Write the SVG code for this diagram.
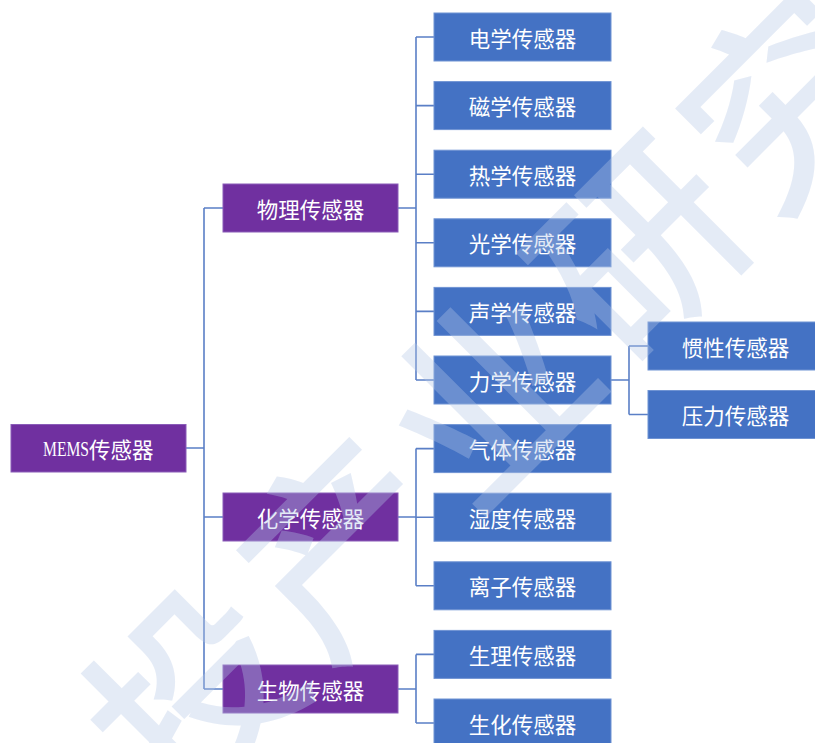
<svg xmlns="http://www.w3.org/2000/svg" width="815" height="743" viewBox="0 0 815 743">
<style>
.p{fill:#7030A0;stroke:#8a5cb8;stroke-width:1}
.b{fill:#4472C4;stroke:#6f93d3;stroke-width:1}
.t{fill:#ffffff;font-family:"Noto Sans CJK SC","Noto Sans",sans-serif;font-size:21.5px;text-anchor:middle;dominant-baseline:central}
.c{fill:none;stroke:#5a7fc6;stroke-width:1.6}
.w{fill:#b4c7e7;opacity:0.35;font-family:"Noto Sans CJK SC",sans-serif;font-size:200px;font-weight:500;text-anchor:middle;dominant-baseline:central}
</style>
<rect width="815" height="743" fill="#ffffff"/>
<g id="connectors">
<path class="c" d="M186,448 H204 M204,208 V689 M204,208 H223 M204,517 H223 M204,689 H223"/>
<path class="c" d="M398,208 H416 M416,37 V380 M416,37 H434 M416,105.6 H434 M416,174.2 H434 M416,242.8 H434 M416,311.4 H434 M416,380 H434"/>
<path class="c" d="M398,517 H416 M416,448.6 V585.8 M416,448.6 H434 M416,517.2 H434 M416,585.8 H434"/>
<path class="c" d="M398,689 H416 M416,654.4 V723 M416,654.4 H434 M416,723 H434"/>
<path class="c" d="M611,380 H629 M629,346 V414.5 M629,346 H648 M629,414.5 H648"/>
</g>
<g id="n-mems"><rect class="p" x="11" y="424.5" width="175" height="47.5"/><text class="t" x="43" y="448.5" style="text-anchor:start;font-family:'Liberation Serif',serif" textLength="46" lengthAdjust="spacingAndGlyphs">MEMS</text><text class="t" x="89" y="448.5" style="text-anchor:start">传感器</text></g>
<g id="n-wuli"><rect class="p" x="223" y="184" width="175" height="48"/><text class="t" x="310.5" y="208">物理传感器</text></g>
<g id="n-huaxue"><rect class="p" x="223" y="493" width="175" height="48"/><text class="t" x="310.5" y="517">化学传感器</text></g>
<g id="n-shengwu"><rect class="p" x="223" y="665" width="175" height="48"/><text class="t" x="310.5" y="689">生物传感器</text></g>
<g id="n-dianxue"><rect class="b" x="434" y="13" width="177" height="48"/><text class="t" x="522.5" y="37">电学传感器</text></g>
<g id="n-cixue"><rect class="b" x="434" y="81.6" width="177" height="48"/><text class="t" x="522.5" y="105.6">磁学传感器</text></g>
<g id="n-rexue"><rect class="b" x="434" y="150.2" width="177" height="48"/><text class="t" x="522.5" y="174.2">热学传感器</text></g>
<g id="n-guangxue"><rect class="b" x="434" y="218.8" width="177" height="48"/><text class="t" x="522.5" y="242.8">光学传感器</text></g>
<g id="n-shengxue"><rect class="b" x="434" y="287.4" width="177" height="48"/><text class="t" x="522.5" y="311.4">声学传感器</text></g>
<g id="n-lixue"><rect class="b" x="434" y="356" width="177" height="48"/><text class="t" x="522.5" y="380">力学传感器</text></g>
<g id="n-qiti"><rect class="b" x="434" y="424.6" width="177" height="48"/><text class="t" x="522.5" y="448.6">气体传感器</text></g>
<g id="n-shidu"><rect class="b" x="434" y="493.2" width="177" height="48"/><text class="t" x="522.5" y="517.2">湿度传感器</text></g>
<g id="n-lizi"><rect class="b" x="434" y="561.8" width="177" height="48"/><text class="t" x="522.5" y="585.8">离子传感器</text></g>
<g id="n-shengli"><rect class="b" x="434" y="630.4" width="177" height="48"/><text class="t" x="522.5" y="654.4">生理传感器</text></g>
<g id="n-shenghua"><rect class="b" x="434" y="699" width="177" height="48"/><text class="t" x="522.5" y="723">生化传感器</text></g>
<g id="n-guanxing"><rect class="b" x="648" y="322" width="177" height="48"/><text class="t" x="735.5" y="346">惯性传感器</text></g>
<g id="n-yali"><rect class="b" x="648" y="390.5" width="177" height="48"/><text class="t" x="735.5" y="414.5">压力传感器</text></g>
<g id="watermark"><text class="w" transform="translate(185,685) rotate(-45)" x="-210 0 210 420 630 840 1050 1260" y="0 0 0 0 0 0 0 0">中投产业研究中心</text></g>
</svg>
